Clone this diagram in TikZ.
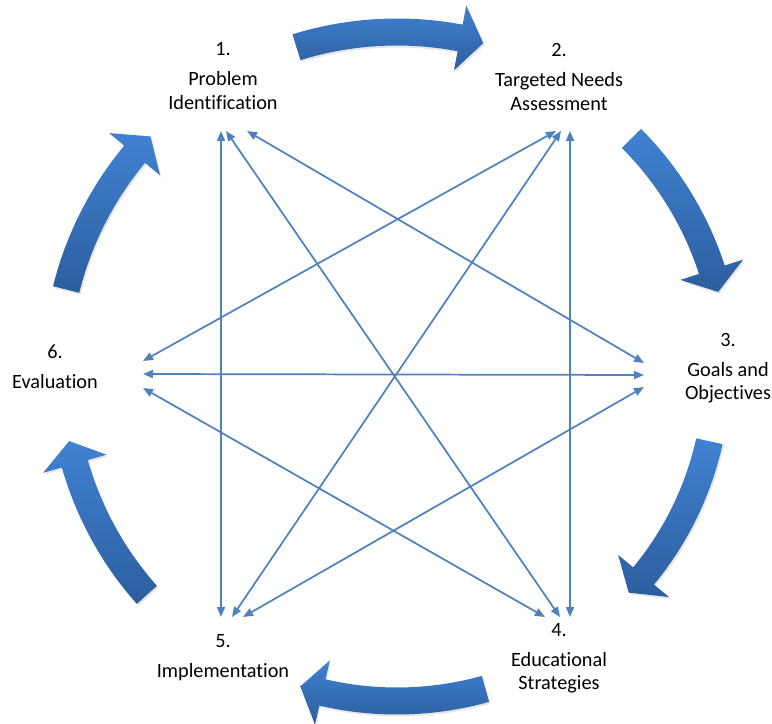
\documentclass[tikz,border=0pt]{standalone}
\usepackage{fontspec}
\setmainfont{Carlito}[Ligatures={NoCommon}]
\usetikzlibrary{arrows.meta,calc,shadows}
\definecolor{linkblue}{RGB}{79,129,189}
\definecolor{arrowlight}{RGB}{64,130,210}
\definecolor{arrowdark}{RGB}{44,94,158}
\tikzset{
  stage/.style={align=center, inner sep=0.75pt, font=\fontsize{15.2}{17.5}\selectfont},
  link/.style={draw=linkblue, line width=1.3pt, {Triangle[length=7.5pt,width=6pt]}-{Triangle[length=7.5pt,width=6pt]}},
  cyclearrow/.style={top color=arrowlight, bottom color=arrowdark, drop shadow={opacity=0.2,shadow xshift=1pt,shadow yshift=-1.5pt}},
}
% #1 tail angle, #2 tip angle, #3 radius (around O)
\newcommand{\bentarrow}[3]{%
  \path[cyclearrow] ($(O)+({#1}:{#3+13.5})$) arc[start angle={#1}, end angle={#2-4}, radius={#3+13.5}]
    -- ($(O)+({#2-4}:{#3+33})$) -- ($(O)+({#2}:{#3})$) -- ($(O)+({#2-4}:{#3-33})$)
    -- ($(O)+({#2-4}:{#3-13.5})$) arc[start angle={#2-4}, end angle={#1}, radius={#3-13.5}] -- cycle;}

\begin{document}
\begin{tikzpicture}[x=0.75pt,y=0.75pt,yscale=-1,xscale=1]
\useasboundingbox (0,0) rectangle (772,724);
\coordinate (O) at (397,372);

% Cycle arrows
\bentarrow{-107.2}{-75.3}{340}
\bentarrow{-44.9}{-14.0}{331}
\bentarrow{12.5}{43.6}{320}
\bentarrow{74.4}{107.1}{329}
\bentarrow{138.3}{168.1}{335}
\bentarrow{194.0}{223.7}{341}

% Text Node
\node [stage] (prob) at (223,76) {1.\\[5pt]Problem\\Identification};
% Text Node
\node [stage] (needs) at (559,77) {2.\\[5pt]Targeted Needs\\Assessment};
% Text Node
\node [stage] (goals) at (728,368) {3.\\[5pt]Goals and\\Objectives};
% Text Node
\node [stage] (edu) at (559,658) {4.\\[5pt]Educational\\Strategies};
% Text Node
\node [stage] (impl) at (223,658) {5.\\[5pt]Implementation};
% Text Node
\node [stage] (eval) at (55,367) {6.\\[5pt]Evaluation};

% link ends
\coordinate (p15) at (221,131);
\coordinate (p14) at (226,131);
\coordinate (p13) at (247,131);
\coordinate (p26) at (556,131);
\coordinate (p25) at (561,131);
\coordinate (p24) at (570,131);
\coordinate (p31) at (644,363);
\coordinate (p36) at (644,375);
\coordinate (p35) at (644,387);
\coordinate (p62) at (143,361);
\coordinate (p63) at (143,374);
\coordinate (p64) at (143,388);
\coordinate (p51) at (221,617);
\coordinate (p52) at (232,617);
\coordinate (p53) at (243,617);
\coordinate (p46) at (545,617);
\coordinate (p41) at (560,617);
\coordinate (p42) at (570,617);

% Connection
\draw [link] (p15) -- (p51);
% Connection
\draw [link] (p14) -- (p41);
% Connection
\draw [link] (p13) -- (p31);
% Connection
\draw [link] (p26) -- (p62);
% Connection
\draw [link] (p25) -- (p52);
% Connection
\draw [link] (p24) -- (p42);
% Connection
\draw [link] (p36) -- (p63);
% Connection
\draw [link] (p35) -- (p53);
% Connection
\draw [link] (p64) -- (p46);

\end{tikzpicture}
\end{document}
